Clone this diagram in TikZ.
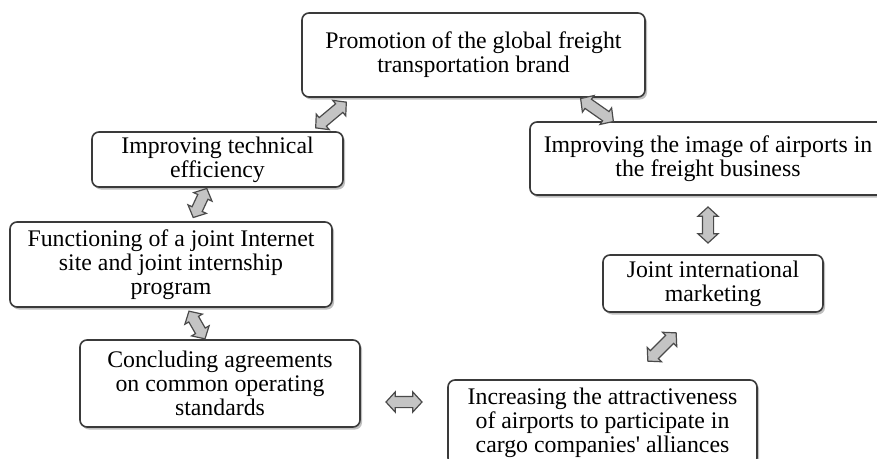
\documentclass[tikz,border=0pt]{standalone}
\usepackage{fontspec}
\setmainfont{Liberation Serif}
\usetikzlibrary{shapes.arrows,shadows}
\definecolor{boxline}{HTML}{3A3A3A}
\definecolor{arrfill}{HTML}{C4C4C4}
\definecolor{arrline}{HTML}{4A4A4A}
\begin{document}
\begin{tikzpicture}[x=1pt,y=1pt,
  box/.style={draw=boxline, line width=1.6pt, rounded corners=7pt, fill=white,
    align=center, inner sep=0pt, font=\fontsize{23.8}{24}\selectfont,
    drop shadow={shadow xshift=2pt, shadow yshift=-2.5pt, fill=black, opacity=0.25}},
  dbl/.style={double arrow, draw=arrline, fill=arrfill, line width=1.2pt,
    inner xsep=0pt, inner ysep=5pt, minimum width=19pt, double arrow head extend=4.5pt,
    double arrow tip angle=95, minimum height=#1},
]
\useasboundingbox (0,0) rectangle (877,-458);
\clip (0,0) rectangle (877,-458);
\fill[white] (0,0) rectangle (877,-458);

\node[box, minimum width=343pt, minimum height=84pt] (promo) at (473.5,-55)
  {Promotion of the global freight\\transportation brand};
\node[box, minimum width=251pt, minimum height=55pt] (tech) at (217.5,-159.5)
  {Improving technical\\efficiency};
\node[box, minimum width=322pt, minimum height=85pt] (site) at (171,-264.5)
  {Functioning of a joint Internet\\site and joint internship\\program};
\node[box, minimum width=280pt, minimum height=87pt] (agree) at (220,-383.5)
  {Concluding agreements\\on common operating\\standards};
\node[box, minimum width=309pt, minimum height=85pt] (attr) at (602.5,-422.5)
  {Increasing the attractiveness\\of airports to participate in\\cargo companies\textquotesingle\ alliances};
\node[box, minimum width=220pt, minimum height=57pt] (mkt) at (713,-283.5)
  {Joint international\\marketing};
\node[box, minimum width=356pt, minimum height=73pt] (image) at (708,-158.5)
  {Improving the image of airports in\\the freight business};

\node[dbl=40pt, rotate=40] (a1) at (331,-115) {};
\node[dbl=40pt, rotate=-35] (a2) at (597,-110) {};
\node[dbl=32pt, rotate=65] (a3) at (200,-203) {};
\node[dbl=32pt, rotate=-60] (a4) at (197,-325) {};
\node[dbl=36pt] (a5) at (404,-402) {};
\node[dbl=36pt, rotate=90] (a6) at (708,-225) {};
\node[dbl=40pt, rotate=45] (a7) at (662,-347) {};
\end{tikzpicture}
\end{document}
